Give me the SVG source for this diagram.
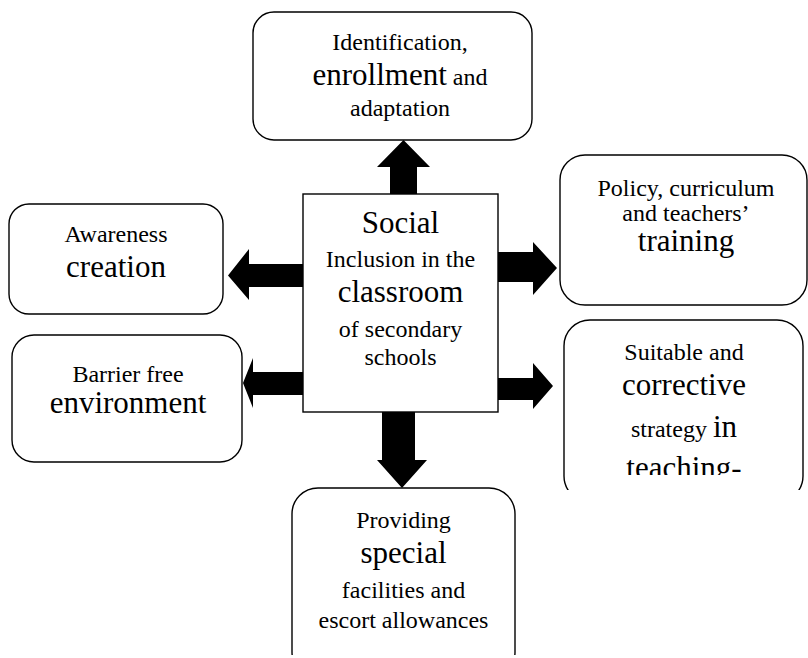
<svg xmlns="http://www.w3.org/2000/svg" width="808" height="658" viewBox="0 0 808 658">
  <style>
    .box { fill: #ffffff; stroke: #000000; stroke-width: 1.4; }
    .arrow { fill: #000000; stroke: none; }
    .serif { font-family: 'Liberation Serif'; }
    .lbl { fill: #000000; text-anchor: middle; font-size: 24px; }
    .big { font-size: 31px; }
  </style>
  <defs>
    <clipPath id="clipPage"><rect x="0" y="0" width="808" height="655"/></clipPath>
    <clipPath id="clipStrategyBox"><rect x="0" y="0" width="808" height="490"/></clipPath>
    <clipPath id="clipStrategyText"><rect x="0" y="0" width="808" height="475"/></clipPath>
  </defs>
  <rect width="808" height="658" fill="#ffffff"/>

  <!-- thick block arrows from the centre box -->
  <g id="connectors">
    <polygon class="arrow" points="390,194 390,167 377,167 403.5,140 430,167 417,167 417,194"/>
    <polygon class="arrow" points="303,264 249,264 249,249 228,275.5 249,300 249,287 303,287"/>
    <polygon class="arrow" points="303,372 253,372 253,358 243,383 253,408 253,395 303,395"/>
    <polygon class="arrow" points="498,252 533,252 533,242 557,268 533,295 533,282 498,282"/>
    <polygon class="arrow" points="498,378 533,378 533,363 553,386 533,409 533,400 498,400"/>
    <polygon class="arrow" points="382,412 415,412 415,460 427,460 402,488 377,460 382,460"/>
  </g>

  <g id="centre">
    <rect class="box" x="303" y="194" width="195" height="218"/>
    <text class="lbl big serif" x="400.5" y="233">Social</text>
    <text class="lbl serif" x="400.5" y="267">Inclusion in the</text>
    <text class="lbl big serif" x="400.5" y="302">classroom</text>
    <text class="lbl serif" x="400.5" y="337">of secondary</text>
    <text class="lbl serif" x="400.5" y="365">schools</text>
  </g>

  <g id="identification">
    <rect class="box" x="253" y="12" width="279" height="128" rx="21"/>
    <text class="lbl serif" x="400" y="50">Identification,</text>
    <text class="lbl serif" x="400" y="85"><tspan class="big">enrollment</tspan> and</text>
    <text class="lbl serif" x="400" y="116">adaptation</text>
  </g>

  <g id="awareness">
    <rect class="box" x="9" y="204" width="214" height="110" rx="20"/>
    <text class="lbl serif" x="116" y="242">Awareness</text>
    <text class="lbl big serif" x="116" y="277">creation</text>
  </g>

  <g id="barrier">
    <rect class="box" x="12" y="335" width="230" height="127" rx="22"/>
    <text class="lbl serif" x="128" y="382">Barrier free</text>
    <text class="lbl big serif" x="128" y="413">environment</text>
  </g>

  <g id="policy">
    <rect class="box" x="560" y="155" width="247" height="150" rx="25"/>
    <text class="lbl serif" x="686" y="196">Policy, curriculum</text>
    <text class="lbl serif" x="686" y="221">and teachers’</text>
    <text class="lbl big serif" x="686" y="251">training</text>
  </g>

  <g id="strategy">
    <rect class="box" x="564" y="320" width="239" height="182" rx="26" clip-path="url(#clipStrategyBox)"/>
    <g clip-path="url(#clipStrategyText)">
      <text class="lbl serif" x="684" y="360">Suitable and</text>
      <text class="lbl big serif" x="684" y="395">corrective</text>
      <text class="lbl serif" x="684" y="437">strategy <tspan class="big">in</tspan></text>
      <text class="lbl big serif" x="684" y="478">teaching-</text>
    </g>
  </g>

  <g id="facilities" clip-path="url(#clipPage)">
    <rect class="box" x="292" y="488" width="223" height="190" rx="26"/>
    <text class="lbl serif" x="403.5" y="528">Providing</text>
    <text class="lbl big serif" x="403.5" y="563">special</text>
    <text class="lbl serif" x="403.5" y="598">facilities and</text>
    <text class="lbl serif" x="403.5" y="628">escort allowances</text>
  </g>
</svg>
